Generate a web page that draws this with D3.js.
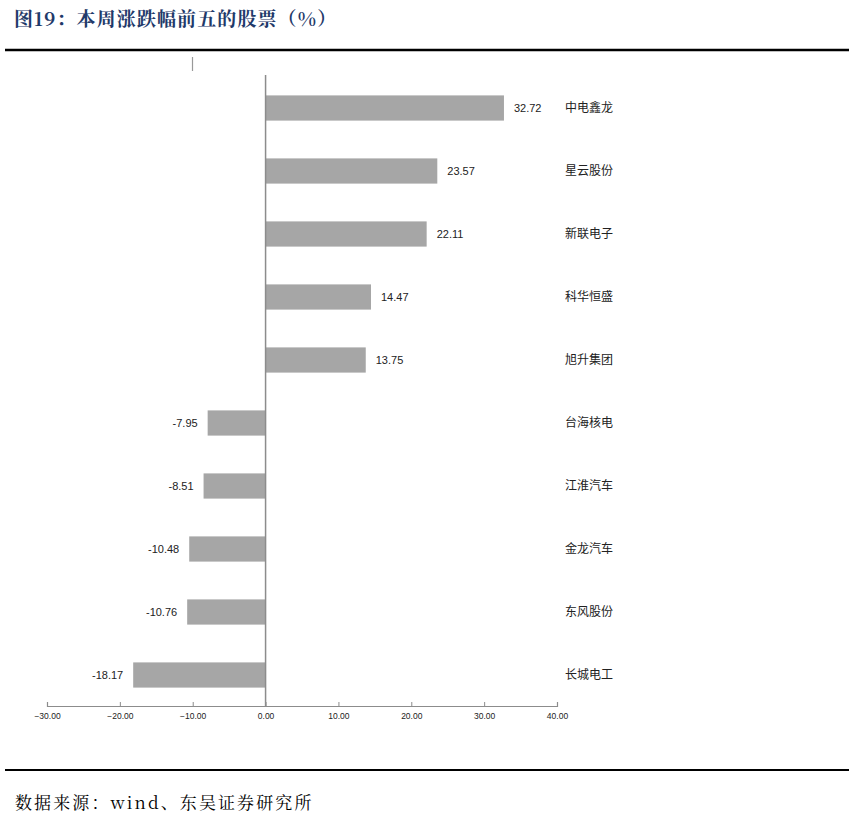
<!DOCTYPE html>
<html><head><meta charset="utf-8">
<script src="https://cdn.jsdelivr.net/npm/d3@7"></script>
<style>body{margin:0;background:#fff}svg{display:block}</style>
</head><body>
<script>
const categories = ["中电鑫龙","星云股份","新联电子","科华恒盛","旭升集团","台海核电","江淮汽车","金龙汽车","东风股份","长城电工"];
const values = [32.72,23.57,22.11,14.47,13.75,-7.95,-8.51,-10.48,-10.76,-18.17];
const tickValues = [-30,-20,-10,0,10,20,30,40];
const title = "图19：本周涨跌幅前五的股票（%）";
const source = "数据来源：wind、东吴证券研究所";

const W = 854, H = 818;
const svg = d3.select("body").append("svg").attr("width", W).attr("height", H);

svg.append("text").attr("x", 14).attr("y", 26).text(title)
  .attr("font-family", "'Noto Serif CJK SC','Noto Sans CJK SC',serif")
  .attr("font-weight", "bold").attr("font-size", 19).attr("letter-spacing", 1.1)
  .attr("fill", "#1f3a6a");
svg.append("line").attr("x1", 5).attr("x2", 849).attr("y1", 50).attr("y2", 50)
  .attr("stroke", "#000").attr("stroke-width", 2.5);
svg.append("line").attr("x1", 5).attr("x2", 849).attr("y1", 770).attr("y2", 770)
  .attr("stroke", "#000").attr("stroke-width", 2);
svg.append("text").attr("x", 15).attr("y", 809).text(source)
  .attr("font-family", "'Noto Serif CJK SC','Noto Sans CJK SC',serif")
  .attr("font-size", 17).attr("letter-spacing", 2.1).attr("fill", "#000");

// small artifact mark
svg.append("line").attr("x1", 192.5).attr("x2", 192.5).attr("y1", 57).attr("y2", 71)
  .attr("stroke", "#999").attr("stroke-width", 1.2);

const x = d3.scaleLinear().domain([-30, 40]).range([47, 557]);
const y = d3.scaleBand().domain(categories).range([76.5, 706.5]).paddingInner(0.6).paddingOuter(0.3);

const g = svg.append("g");
g.selectAll("rect").data(values).join("rect")
  .attr("x", d => x(Math.min(0, d)))
  .attr("width", d => Math.abs(x(d) - x(0)))
  .attr("y", (d, i) => y(categories[i]))
  .attr("height", y.bandwidth())
  .attr("fill", "#a6a6a6");

g.selectAll("text.val").data(values).join("text").attr("class", "val")
  .attr("x", d => d >= 0 ? x(d) + 10 : x(d) - 10)
  .attr("y", (d, i) => y(categories[i]) + y.bandwidth() / 2)
  .attr("dy", "0.35em")
  .attr("text-anchor", d => d >= 0 ? "start" : "end")
  .attr("font-family", "Arial, 'Liberation Sans', sans-serif")
  .attr("font-size", 11).attr("fill", "#222")
  .text(d => d.toFixed(2));

g.selectAll("text.cat").data(categories).join("text").attr("class", "cat")
  .attr("x", 565)
  .attr("y", d => y(d) + y.bandwidth() / 2)
  .attr("dy", "0.35em")
  .attr("font-family", "'Noto Sans CJK SC', sans-serif")
  .attr("font-size", 12).attr("fill", "#222")
  .text(d => d);

// zero line
svg.append("line").attr("x1", x(0)).attr("x2", x(0)).attr("y1", 75).attr("y2", 706)
  .attr("stroke", "#8c8c8c").attr("stroke-width", 1.5);

// x axis
const axis = d3.axisTop(x).tickValues(tickValues).tickSize(4).tickFormat(d => d3.format(".2f")(d));
const ax = svg.append("g").attr("transform", "translate(0,706)").call(axis);
ax.select(".domain").attr("stroke", "#8c8c8c").attr("stroke-width", 1.2);
ax.selectAll(".tick line").attr("stroke", "#8c8c8c");
ax.selectAll(".tick text").attr("y", 13).attr("dy", "0")
  .attr("font-family", "Arial, 'Liberation Sans', sans-serif")
  .attr("font-size", 8.5).attr("fill", "#222");
</script>
</body></html>
